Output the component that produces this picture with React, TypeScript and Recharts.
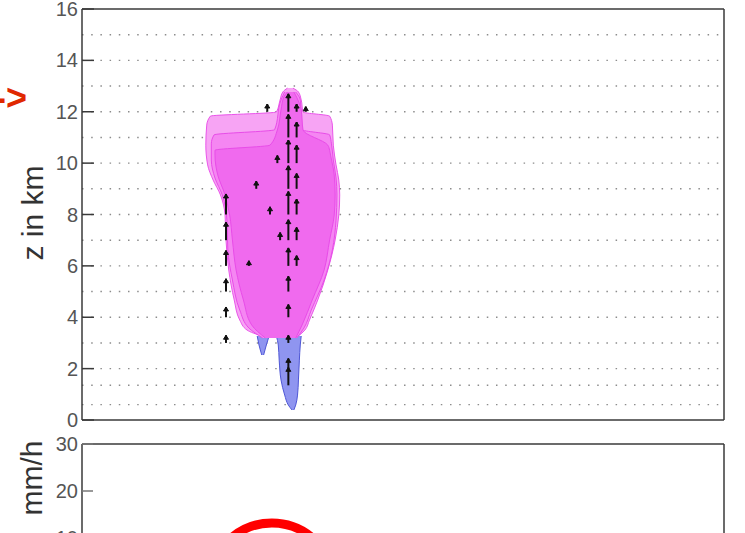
import {
  ComposedChart,
  Area,
  Line,
  Scatter,
  XAxis,
  YAxis,
  CartesianGrid,
  ReferenceDot,
  Label,
} from 'recharts';

// cross-section, x in km (0..70), z in km (0..16)
// each contour: at height z, the band spans [left, right] in x
const outerBand = [
  { z: 3.27, xr: [19.6, 23.6] },
  { z: 3.5, xr: [18.0, 24.3] },
  { z: 3.89, xr: [17.2, 24.8] },
  { z: 4.67, xr: [16.6, 25.7] },
  { z: 5.84, xr: [16.0, 26.8] },
  { z: 7.01, xr: [15.7, 27.6] },
  { z: 7.98, xr: [15.6, 28.0] },
  { z: 8.76, xr: [15.1, 28.1] },
  { z: 9.34, xr: [14.3, 28.0] },
  { z: 9.93, xr: [13.7, 27.7] },
  { z: 10.7, xr: [13.5, 27.4] },
  { z: 11.48, xr: [13.6, 27.3] },
  { z: 11.83, xr: [14.0, 27.0] },
  { z: 11.99, xr: [21.2, 24.1] },
  { z: 12.46, xr: [21.6, 23.9] },
  { z: 12.77, xr: [21.9, 23.6] },
  { z: 12.92, xr: [22.4, 23.0] },
];

const middleBand = [
  { z: 3.19, xr: [19.7, 23.4] },
  { z: 3.58, xr: [18.2, 24.2] },
  { z: 4.28, xr: [17.2, 25.0] },
  { z: 5.45, xr: [16.4, 26.4] },
  { z: 6.62, xr: [15.9, 27.3] },
  { z: 7.78, xr: [15.8, 27.7] },
  { z: 8.76, xr: [15.3, 27.8] },
  { z: 9.42, xr: [14.5, 27.7] },
  { z: 10.12, xr: [14.1, 27.4] },
  { z: 10.75, xr: [14.1, 27.2] },
  { z: 11.1, xr: [14.4, 27.0] },
  { z: 11.3, xr: [21.0, 24.0] },
  { z: 12.46, xr: [21.7, 23.8] },
  { z: 12.77, xr: [22.1, 23.3] },
];

const innerBand = [
  { z: 3.19, xr: [20.0, 23.3] },
  { z: 3.7, xr: [18.5, 24.0] },
  { z: 4.67, xr: [17.6, 25.1] },
  { z: 5.84, xr: [16.8, 26.4] },
  { z: 7.01, xr: [16.4, 27.0] },
  { z: 7.98, xr: [16.1, 27.5] },
  { z: 8.76, xr: [15.6, 27.6] },
  { z: 9.54, xr: [14.8, 27.5] },
  { z: 10.31, xr: [14.5, 27.1] },
  { z: 10.5, xr: [14.5, 27.0] },
  { z: 10.7, xr: [20.5, 26.8] },
  { z: 11.29, xr: [21.3, 24.1] },
  { z: 12.07, xr: [21.7, 23.9] },
  { z: 12.57, xr: [22.0, 23.4] },
  { z: 12.77, xr: [22.4, 23.1] },
];

const bluePlume = [
  { z: 0.39, xr: [22.9, 23.1] },
  { z: 0.58, xr: [22.5, 23.3] },
  { z: 0.97, xr: [22.1, 23.5] },
  { z: 1.56, xr: [21.7, 23.6] },
  { z: 2.33, xr: [21.5, 23.7] },
  { z: 2.92, xr: [21.4, 23.8] },
  { z: 3.27, xr: [21.2, 23.9] },
];

const blueLobe = [
  { z: 2.53, xr: [19.6, 19.8] },
  { z: 2.92, xr: [19.3, 20.1] },
  { z: 3.27, xr: [19.1, 20.4] },
];

// vertical wind arrows: position (x, z) and upward length w in km
const updraftArrows = [
  { x: 22.5, z: 3, w: 0.3 },
  { x: 22.5, z: 4, w: 0.5 },
  { x: 22.5, z: 5, w: 0.6 },
  { x: 22.5, z: 6, w: 0.7 },
  { x: 22.5, z: 7, w: 0.8 },
  { x: 22.5, z: 8, w: 0.9 },
  { x: 22.5, z: 9, w: 0.9 },
  { x: 22.5, z: 10, w: 0.9 },
  { x: 22.5, z: 11, w: 0.9 },
  { x: 22.5, z: 12, w: 0.7 },
  { x: 23.4, z: 6, w: 0.4 },
  { x: 23.4, z: 7, w: 0.5 },
  { x: 23.4, z: 8, w: 0.6 },
  { x: 23.4, z: 9, w: 0.6 },
  { x: 23.4, z: 10, w: 0.7 },
  { x: 23.4, z: 11, w: 0.6 },
  { x: 23.4, z: 12, w: 0.3 },
  { x: 15.7, z: 3, w: 0.3 },
  { x: 15.7, z: 4, w: 0.4 },
  { x: 15.7, z: 5, w: 0.5 },
  { x: 15.7, z: 6, w: 0.6 },
  { x: 15.7, z: 7, w: 0.7 },
  { x: 15.7, z: 8, w: 0.8 },
  { x: 22.5, z: 1.35, w: 0.7 },
  { x: 22.5, z: 2, w: 0.4 },
  { x: 19.0, z: 9, w: 0.3 },
  { x: 20.5, z: 8, w: 0.3 },
  { x: 21.3, z: 10, w: 0.3 },
  { x: 18.2, z: 6, w: 0.2 },
  { x: 20.2, z: 12, w: 0.3 },
  { x: 24.4, z: 12, w: 0.2 },
  { x: 21.6, z: 7, w: 0.3 },
];

const vectorRows = [0.6, 1.35, 2, 3, 4, 5, 6, 7, 8, 9, 10, 11, 12, 13, 14, 15];
const zTicks = [0, 2, 4, 6, 8, 10, 12, 14, 16];
const xTicks = [10, 20, 30, 40, 50, 60];

// surface rain rate (mm/h); only the top of this panel is in view
const rainX = [0, 10, 15, 18, 20, 21, 22, 23, 24, 26, 30, 40, 50, 60, 70];
const rainRate = [0, 0, 0, 0.5, 2, 4, 6, 5, 3, 1, 0, 0, 0, 0, 0];
const rainTicks = [0, 10, 20, 30];
const rainData = rainX.map((x, i) => ({ x, r: rainRate[i] }));

const W = 745;
const TOP_H = 430;
const PX_PER_KM = 411 / 16;
const AXIS = '#3a3a3a';
const TICK_FONT = { fontSize: 20, fill: '#555', fontFamily: 'Liberation Sans, Arial, sans-serif' };

const Arrow = (props: any) => {
  const { cx, cy, payload } = props;
  const y2 = cy - payload.w * PX_PER_KM;
  return (
    <g>
      <line x1={cx} y1={cy} x2={cx} y2={y2} stroke="#111" strokeWidth={2} />
      <path d={`M${cx - 2.5},${y2 + 4} L${cx},${y2} L${cx + 2.5},${y2 + 4} Z`} fill="#111" stroke="#111" />
    </g>
  );
};

const sideLabel = (text: string, cx: number, cy?: number) => (props: any) => {
  const vb = props.viewBox;
  const y = cy ?? vb.y + vb.height / 2;
  return (
    <text
      x={cx}
      y={y}
      transform={`rotate(-90, ${cx}, ${y})`}
      textAnchor="middle"
      dominantBaseline="central"
      fontSize={30}
      fill="#333"
      fontFamily="Liberation Sans, Arial, sans-serif"
    >
      {text}
    </text>
  );
};

export default function App() {
  return (
    <div style={{ position: 'absolute', left: 0, top: 0, width: W, height: 533, overflow: 'hidden', background: '#fff' }}>
      <div style={{ position: 'absolute', left: 0, top: 0 }}>
        <ComposedChart width={W} height={TOP_H} layout="vertical" margin={{ top: 0, right: 0, left: 0, bottom: 0 }}>
          <CartesianGrid
            horizontal
            vertical={false}
            horizontalValues={vectorRows}
            stroke="#8c8c8c"
            strokeWidth={1.4}
            strokeDasharray="1.5 7.7"
          />
          <XAxis type="number" dataKey="x" domain={[0, 70]} ticks={xTicks} orientation="bottom" height={10} tick={false} tickLine={false} axisLine={{ stroke: AXIS, strokeWidth: 1.5 }} />
          <XAxis xAxisId="top" type="number" domain={[0, 70]} ticks={xTicks} orientation="top" height={9} tickSize={-11} tickFormatter={() => ''} tickLine={{ stroke: AXIS, strokeWidth: 1.5 }} axisLine={{ stroke: AXIS, strokeWidth: 1.5 }} />
          <YAxis type="number" dataKey="z" reversed domain={[0, 16]} ticks={zTicks} interval={0} width={82} tickSize={-12} tickMargin={16} tick={TICK_FONT} tickLine={{ stroke: AXIS, strokeWidth: 1.5 }} axisLine={{ stroke: AXIS, strokeWidth: 1.5 }}>
            <Label content={sideLabel('z in km', 32, 213)} />
          </YAxis>
          <YAxis yAxisId="r" type="number" reversed orientation="right" domain={[0, 16]} ticks={zTicks} interval={0} width={21} tickSize={-11} tickFormatter={() => ''} tickLine={{ stroke: AXIS, strokeWidth: 1.5 }} axisLine={{ stroke: AXIS, strokeWidth: 1.5 }} />
          <Area data={bluePlume} dataKey="xr" type="monotone" fill="#8f95f0" fillOpacity={1} stroke="#4e56d6" strokeWidth={1} isAnimationActive={false} />
          <Area data={blueLobe} dataKey="xr" type="monotone" fill="#8f95f0" fillOpacity={1} stroke="#4e56d6" strokeWidth={1} isAnimationActive={false} />
          <Area data={outerBand} dataKey="xr" type="monotone" fill="#f7a4f4" fillOpacity={1} stroke="#ea55ea" strokeWidth={1} isAnimationActive={false} />
          <Area data={middleBand} dataKey="xr" type="monotone" fill="#f586f2" fillOpacity={1} stroke="#e84ce8" strokeWidth={1} isAnimationActive={false} />
          <Area data={innerBand} dataKey="xr" type="monotone" fill="#f06aee" fillOpacity={1} stroke="#e84ce8" strokeWidth={1} isAnimationActive={false} />
          <Scatter data={updraftArrows} dataKey="z" shape={Arrow} isAnimationActive={false} />
        </ComposedChart>
      </div>
      <div style={{ position: 'absolute', left: 0, top: 434 }}>
        <ComposedChart width={W} height={161} data={rainData} margin={{ top: 0, right: 0, left: 0, bottom: 0 }}>
          <XAxis type="number" dataKey="x" domain={[0, 70]} ticks={xTicks} orientation="bottom" height={10} tick={false} tickLine={false} axisLine={{ stroke: AXIS, strokeWidth: 1.5 }} />
          <XAxis xAxisId="top" type="number" dataKey="x" domain={[0, 70]} orientation="top" height={10} tick={false} tickLine={false} axisLine={{ stroke: AXIS, strokeWidth: 1.5 }} />
          <YAxis type="number" domain={[0, 30]} ticks={rainTicks} interval={0} width={82} tickSize={-11} tickMargin={15} tick={TICK_FONT} tickLine={{ stroke: '#777', strokeWidth: 1.5 }} axisLine={{ stroke: AXIS, strokeWidth: 1.5 }}>
            <Label content={sideLabel('mm/h', 31, 44)} />
          </YAxis>
          <YAxis yAxisId="r" type="number" orientation="right" domain={[0, 30]} ticks={rainTicks} interval={0} width={21} tickSize={-11} tickFormatter={() => ''} tickLine={{ stroke: '#777', strokeWidth: 1.5 }} axisLine={{ stroke: AXIS, strokeWidth: 1.5 }} />
          <Line dataKey="r" type="monotone" stroke="#222" strokeWidth={1.5} dot={false} isAnimationActive={false} />
          <ReferenceDot x={20.7} y={0} r={62} fill="none" stroke="#ff0000" strokeWidth={9} ifOverflow="visible" />
        </ComposedChart>
      </div>
      <div
        style={{
          position: 'absolute',
          left: -6,
          top: 78,
          fontFamily: 'Liberation Sans, Arial, sans-serif',
          fontWeight: 'bold',
          fontSize: 36,
          color: '#e02800',
          lineHeight: '40px',
        }}
      >
        -&gt;
      </div>
    </div>
  );
}
